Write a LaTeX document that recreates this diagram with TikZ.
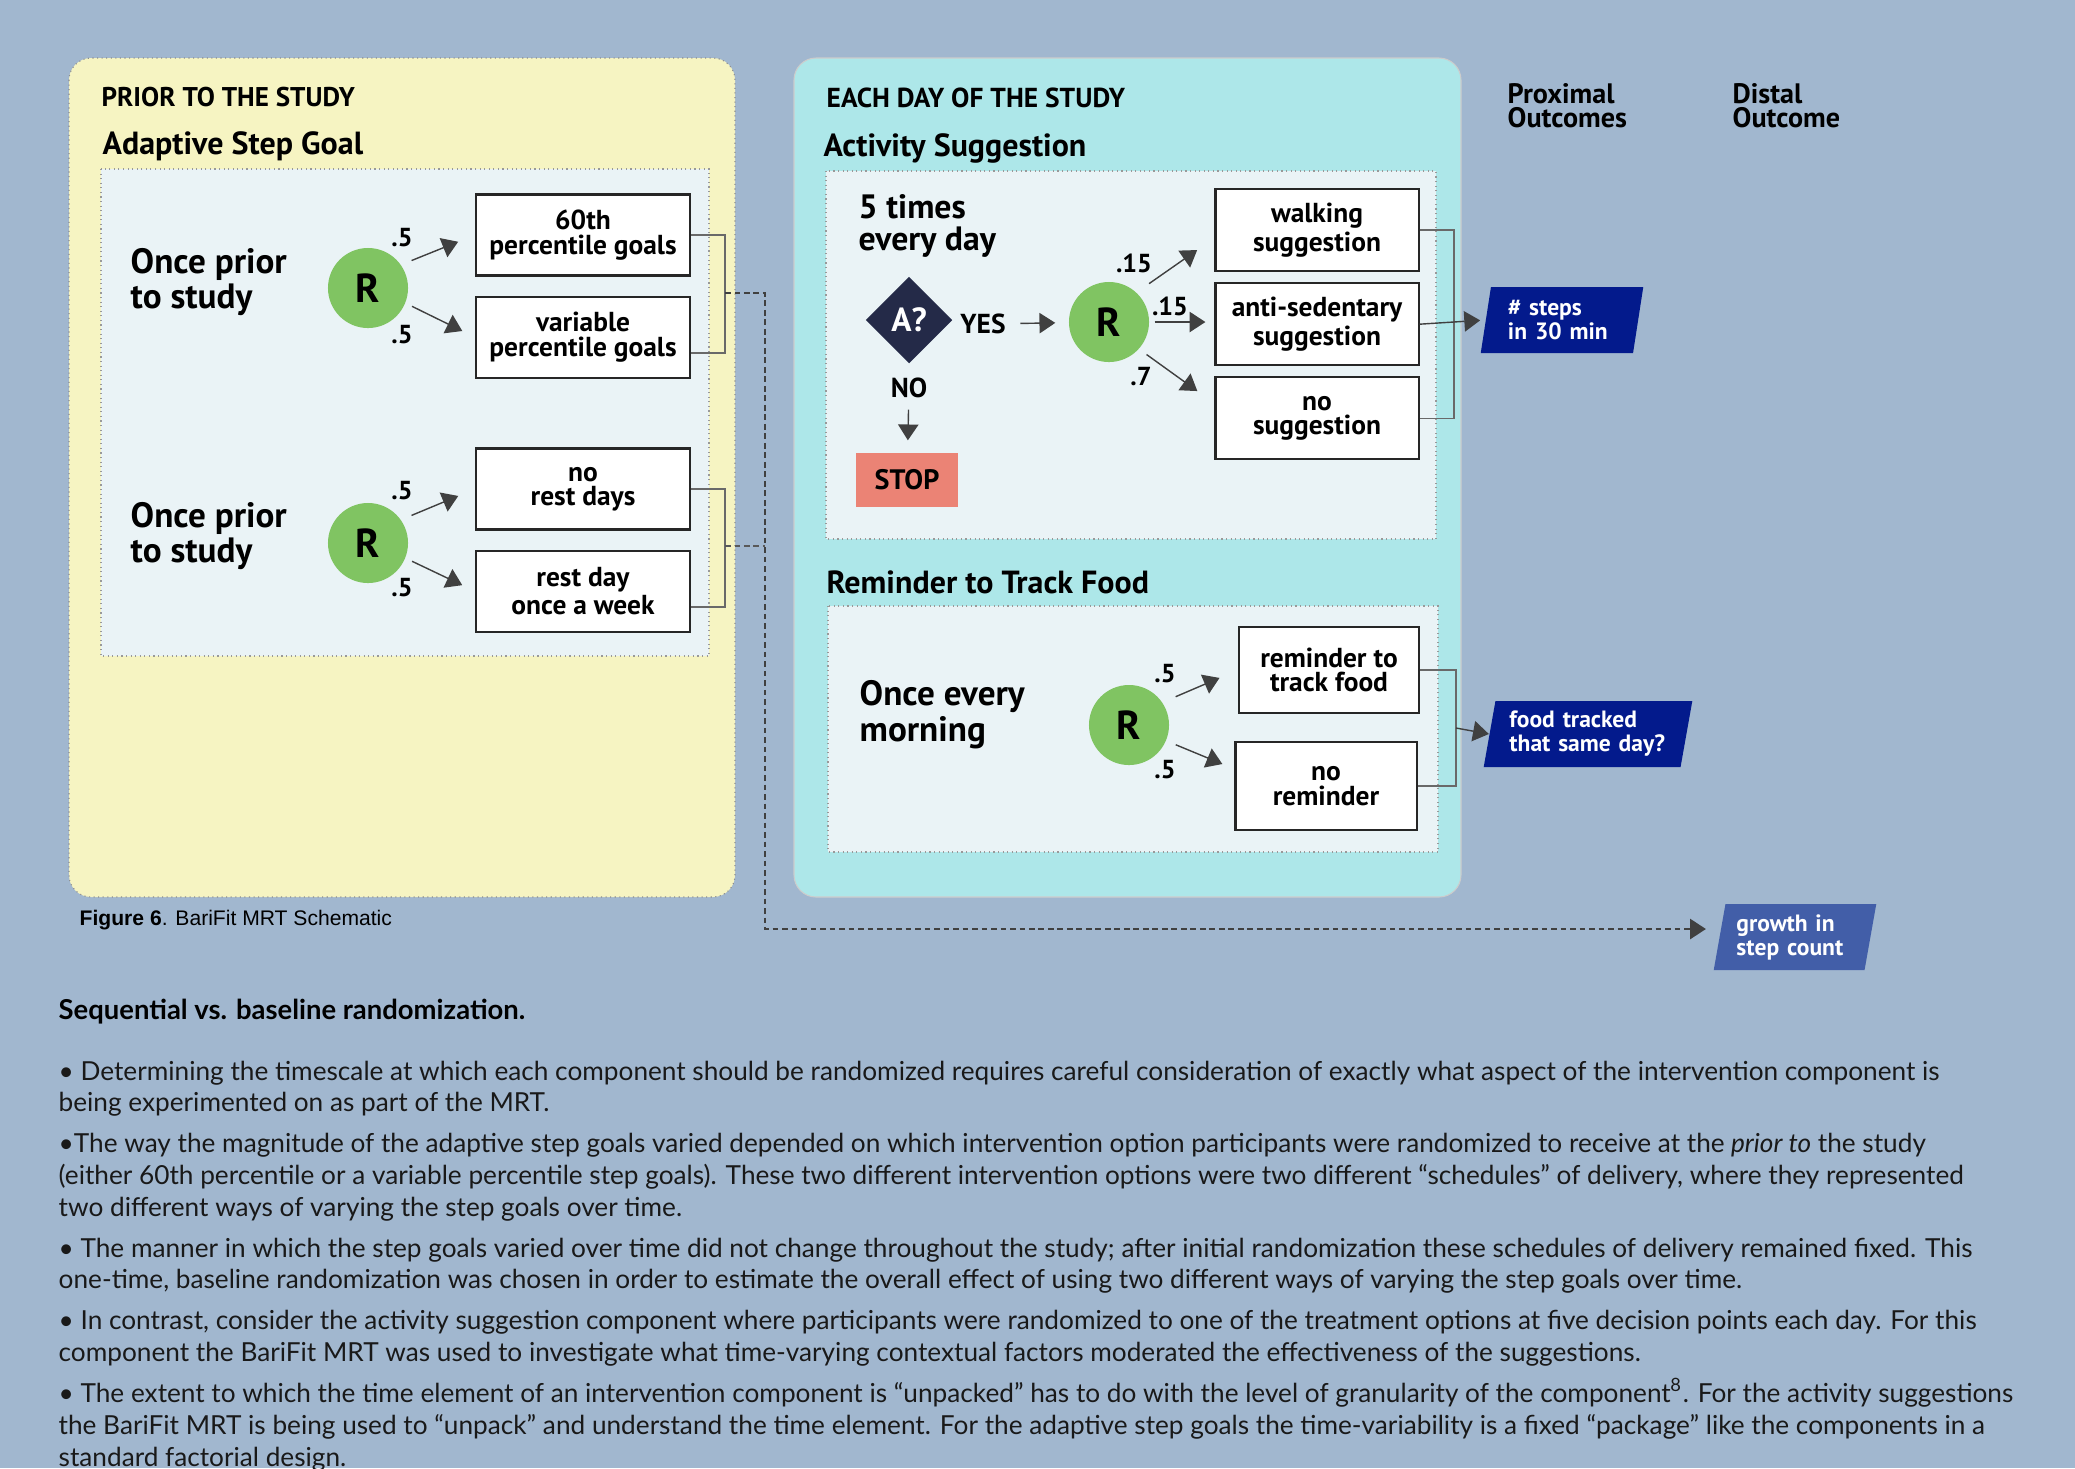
\documentclass[tikz,border=0pt]{standalone}
\usepackage{fontspec}
\setmainfont{Lato}
\newfontfamily\myriad{PT Sans}
\newfontfamily\capfont{Liberation Sans}
\usetikzlibrary{shapes.geometric, arrows.meta, positioning, calc}
\definecolor{pagebg}{RGB}{161,183,207}
\definecolor{priorfill}{RGB}{246,244,194}
\definecolor{dailyfill}{RGB}{173,231,233}
\definecolor{panefill}{RGB}{234,243,246}
\definecolor{rgreen}{RGB}{128,196,98}
\definecolor{decnavy}{RGB}{36,42,72}
\definecolor{stopred}{RGB}{235,131,117}
\definecolor{proxblue}{RGB}{3,26,140}
\definecolor{distblue}{RGB}{66,94,168}
\definecolor{arrgray}{RGB}{64,64,64}
\definecolor{linegray}{RGB}{105,105,105}
\newcommand{\dfont}[2]{\myriad\bfseries\fontsize{#1}{#2}\selectfont}
\tikzset{
  panel/.style={draw=black!45,densely dotted,line width=0.3pt,rounded corners=0.22cm},
  pane/.style={draw=black!40,densely dotted,line width=0.3pt,fill=panefill},
  optbox/.style={rectangle,draw=black!85,fill=white,line width=0.6pt,align=center,
    minimum width=2.14cm,minimum height=0.81cm,inner sep=0pt,font=\dfont{7.8}{6.9}},
  rnode/.style={circle,fill=rgreen,minimum size=0.8cm,inner sep=0pt,font=\dfont{11.5}{12}},
  when/.style={anchor=west,align=left,inner sep=0pt,font=\dfont{10}{10.2}},
  prob/.style={inner sep=0pt,font=\dfont{7.4}{8}},
  head/.style={anchor=west,align=left,inner sep=0pt,font=\dfont{7.7}{6.9}},
  comp/.style={anchor=west,inner sep=0pt,font=\dfont{9.1}{10}},
  outcome/.style={trapezium,trapezium left angle=75.5,trapezium right angle=104.5,
    trapezium stretches body,align=left,text=white,inner ysep=0pt,
    minimum height=0.66cm,font=\dfont{6.7}{6.8}},
  arr/.style={-{Triangle[length=4.5pt,width=5.8pt]},draw=arrgray,line width=0.4pt},
  brk/.style={draw=linegray,line width=0.45pt},
  dashline/.style={draw=black!65,line width=0.45pt,dash pattern=on 1.6pt off 1.1pt},
  dasharr/.style={arr,dash pattern=on 1.6pt off 1.1pt}
}

\begin{document}
\begin{tikzpicture}[x=0.01cm,y=-0.01cm,node distance=0.19cm]
  \useasboundingbox[fill=pagebg] (0,0) rectangle (2075,1468);

  \draw[panel,fill=priorfill] (69,58) rectangle (735,897);
  \draw[pane] (101,169) rectangle (709,656);
  \draw[panel,fill=dailyfill,solid,draw=black!20] (794,58) rectangle (1461,897);
  \draw[pane] (826,171) rectangle (1436,539);
  \draw[pane] (828,606) rectangle (1438,852);

  % prior to the study
  \node[head] (prior) at (101,97) {PRIOR TO THE STUDY};
  \node[comp] (asg) at (102,146) {Adaptive Step Goal};
  \node[when] (once1) at (130,282) {Once prior\\to study};
  \node[rnode] (r1) at (368,288) {R};
  \node[optbox] (g60) at (583,235) {60th\\percentile goals};
  \node[optbox,below=of g60] (gvar) {variable\\percentile goals};
  \node[prob] (p1a) at (402,238) {.5};
  \node[prob] (p1b) at (402,335) {.5};
  \node[when] (once2) at (130,536) {Once prior\\to study};
  \node[rnode] (r2) at (368,543) {R};
  \node[optbox] (rest0) at (583,489) {no\\rest days};
  \node[optbox,below=of rest0] (rest1) {rest day\\once a week};
  \node[prob] (p2a) at (402,491) {.5};
  \node[prob] (p2b) at (402,588) {.5};
  \foreach \r/\a/\b in {r1/g60/gvar,r2/rest0/rest1} {
    \draw[arr,shorten <=0.11cm,shorten >=0.18cm] (\r.35) -- (\a.west);
    \draw[arr,shorten <=0.07cm,shorten >=0.14cm] (\r.-22) -- (\b.west);
  }
  \coordinate (j1) at (725,293);
  \coordinate (j2) at (725,546);
  \coordinate (dbend) at (765,929);
  \draw[brk] (g60.east) -| (j1) |- ([yshift=-0.16cm]gvar.east);
  \draw[brk] (rest0.east) -| (j2) |- ([yshift=-0.16cm]rest1.east);

  % each day of the study
  \node[head,font=\dfont{7.8}{6.9}] (eachday) at (826,98) {EACH DAY OF THE STUDY};
  \node[comp] (actsug) at (823,148) {Activity Suggestion};
  \node[when,font=\dfont{9.6}{8.9}] (five) at (858,226) {5 times\\every day};
  \node[diamond,fill=decnavy,text=white,minimum width=0.87cm,minimum height=0.87cm,
    inner sep=0pt,font=\dfont{9.5}{10}] (dec) at (909,320) {A?};
  \node[prob,font=\dfont{7.8}{8}] (yes) at (983,324) {YES};
  \node[prob,font=\dfont{7.8}{8}] (no) at (909,388) {NO};
  \node[fill=stopred,minimum width=1.02cm,minimum height=0.54cm,inner sep=0pt,
    font=\dfont{8}{8}] (stop) at (907,480) {STOP};
  \node[rnode] (r3) at (1109,322) {R};
  \node[optbox,minimum width=2.03cm,minimum height=0.82cm] (wk) at (1317,230) {walking\\suggestion};
  \node[optbox,minimum width=2.03cm,minimum height=0.82cm,below=0.1cm of wk] (as) {anti-sedentary\\suggestion};
  \node[optbox,minimum width=2.03cm,minimum height=0.82cm,below=0.1cm of as] (ns) {no\\suggestion};
  \node[prob] (p3a) at (1134,263) {.15};
  \node[prob] (p3b) at (1170,306) {.15};
  \node[prob] (p3c) at (1141,377) {.7};
  \draw[arr,shorten <=0.14cm,shorten >=0.13cm] (yes) -- (r3);
  \draw[arr,shorten <=0.11cm,shorten >=0.12cm] (no) -- (stop);
  \draw[arr,shorten <=0.15cm,shorten >=0.21cm] (r3.47) -- ([yshift=-0.08cm]wk.west);
  \draw[arr,shorten <=0.05cm,shorten >=0.09cm] (r3.east) -- (r3.east -| as.west);
  \draw[arr,shorten <=0.09cm,shorten >=0.21cm] (r3.-42) -- ([yshift=0.15cm]ns.west);
  \coordinate (abrk) at (1454,322);
  \draw[brk] (wk.east) -| (abrk) |- (ns.east);

  \node[comp] (food) at (826,582) {Reminder to Track Food};
  \node[when] (morn) at (859,715) {Once every\\morning};
  \node[rnode] (r4) at (1129,725) {R};
  \node[optbox,minimum width=1.8cm,minimum height=0.86cm] (rf) at (1329,670) {reminder to\\track food};
  \node[optbox,minimum width=1.81cm,minimum height=0.88cm] (nr) at (1326,786) {no\\reminder};
  \node[prob] (p4a) at (1165,674) {.5};
  \node[prob] (p4b) at (1165,770) {.5};
  \draw[arr,shorten <=0.14cm,shorten >=0.2cm] (r4.34) -- (rf.west);
  \draw[arr,shorten <=0.1cm,shorten >=0.13cm] (r4.-23) -- ([yshift=0.17cm]nr.west);
  \coordinate (fbrk) at (1456,728);
  \draw[brk] (rf.east) -| (fbrk) |- (nr.east);

  % outcomes
  \node[head,font=\dfont{8}{6.9}] (prox) at (1507,106) {Proximal\\Outcomes};
  \node[head,font=\dfont{8}{6.9}] (dist) at (1732,106) {Distal\\Outcome};
  \node[outcome,fill=proxblue,inner xsep=0.17cm,text width=1.08cm] (steps) at (1562,320) {\# steps\\in 30 min};
  \node[outcome,fill=proxblue,inner xsep=0.14cm,text width=1.57cm] (tracked) at (1588,734) {food tracked\\that same day?};
  \node[outcome,fill=distblue,inner xsep=0.11cm,text width=1.17cm] (growth) at (1795,937) {growth in\\step count};
  \draw[arr,shorten >=0.05cm] (as.east) -- (steps.west);
  \draw[arr] (fbrk) -- (tracked.west);
  \draw[dasharr,shorten >=0.13cm] (j1) -| (dbend) -- (dbend -| growth.west);
  \draw[dashline] (j2) -- (j2 -| dbend);

  \node[anchor=west,inner sep=0pt,font=\capfont\fontsize{6}{6.5}\selectfont] (cap) at (79,920)
    {\textbf{Figure 6}. BariFit MRT Schematic};

  \node[anchor=west,inner sep=0pt,font=\bfseries\fontsize{7.8}{8}\selectfont] (seqhead) at (58,1012)
    {Sequential vs. baseline randomization.};
  \node[anchor=north west,inner sep=0pt,align=left,text=black!90,font=\fontsize{7.45}{9.05}\selectfont] (body) at (58,1060)
    {• Determining the timescale at which each component should be randomized requires careful consideration of exactly what aspect of the intervention component is\\
     being experimented on as part of the MRT.\\[0.09cm]
     •The way the magnitude of the adaptive step goals varied depended on which intervention option participants were randomized to receive at the \textit{prior to} the study\\
     (either 60th percentile or a variable percentile step goals). These two different intervention options were two different “schedules” of delivery, where they represented\\
     two different ways of varying the step goals over time.\\[0.09cm]
     • The manner in which the step goals varied over time did not change throughout the study; after initial randomization these schedules of delivery remained fixed. This\\
     one-time, baseline randomization was chosen in order to estimate the overall effect of using two different ways of varying the step goals over time.\\[0.09cm]
     • In contrast, consider the activity suggestion component where participants were randomized to one of the treatment options at five decision points each day. For this\\
     component the BariFit MRT was used to investigate what time-varying contextual factors moderated the effectiveness of the suggestions.\\[0.09cm]
     • The extent to which the time element of an intervention component is “unpacked” has to do with the level of granularity of the component\textsuperscript{8}. For the activity suggestions\\
     the BariFit MRT is being used to “unpack” and understand the time element. For the adaptive step goals the time-variability is a fixed “package” like the components in a\\
     standard factorial design.};
\end{tikzpicture}
\end{document}
